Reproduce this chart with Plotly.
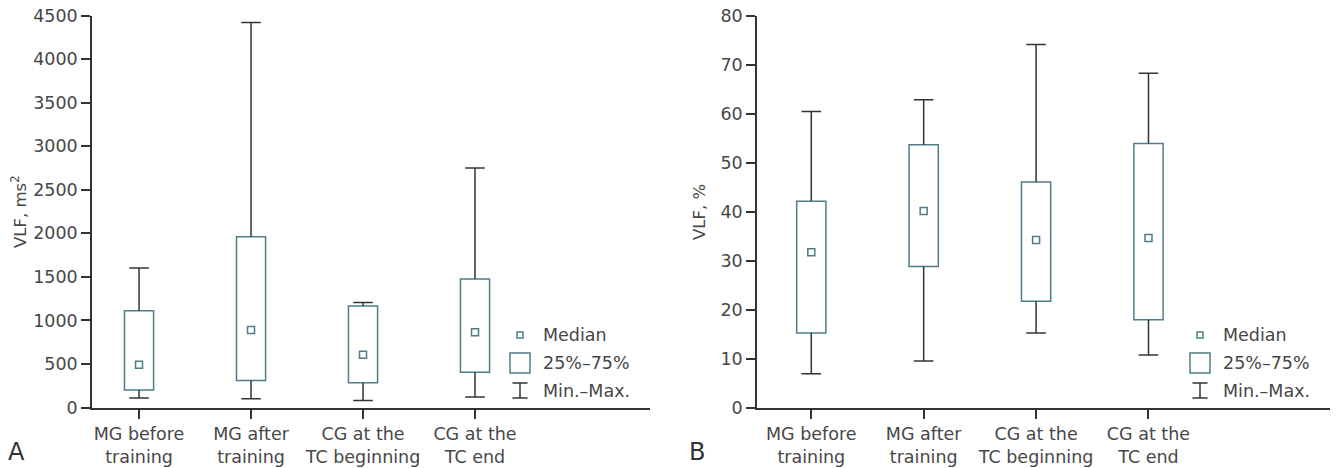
import plotly.graph_objects as go
from plotly.subplots import make_subplots

categories = ["MG before<br>training", "MG after<br>training",
              "CG at the<br>TC beginning", "CG at the<br>TC end"]

# Panel A: VLF, ms^2
a_min = [110, 100, 80, 120]
a_q1 = [200, 310, 285, 405]
a_med = [490, 890, 605, 865]
a_q3 = [1110, 1960, 1165, 1475]
a_max = [1600, 4420, 1205, 2750]

# Panel B: VLF, %
b_min = [6.9, 9.5, 15.2, 10.7]
b_q1 = [15.2, 28.8, 21.7, 17.9]
b_med = [31.7, 40.1, 34.2, 34.6]
b_q3 = [42.1, 53.6, 46.0, 53.9]
b_max = [60.4, 62.8, 74.1, 68.2]

a_ticks = [0, 500, 1000, 1500, 2000, 2500, 3000, 3500, 4000, 4500]
b_ticks = [0, 10, 20, 30, 40, 50, 60, 70, 80]

W, H = 1337, 468
TEAL = "#4f7d86"
DARK = "#333333"
TXT = "#474747"
FONT = "DejaVu Sans"
FS = 17.5

fig = make_subplots(rows=1, cols=2)


def add_panel(col, mn, q1, med, q3, mx):
    fig.add_trace(go.Bar(x=categories, y=[b - a for a, b in zip(q1, q3)], base=q1,
                         width=0.26, marker=dict(color="white", line=dict(color=TEAL, width=1.5)),
                         showlegend=False, hoverinfo="skip"), row=1, col=col)
    for c, lo, a, b, hi in zip(categories, mn, q1, q3, mx):
        for y0, y1 in ((hi, b), (a, lo)):
            fig.add_trace(go.Scatter(x=[c, c], y=[y0, y1], mode="lines",
                                     line=dict(color=DARK, width=1.5),
                                     showlegend=False, hoverinfo="skip"), row=1, col=col)
    fig.add_trace(go.Scatter(x=categories + categories, y=mx + mn, mode="markers",
                             marker=dict(symbol="line-ew", size=14, line=dict(color=DARK, width=1.5)),
                             showlegend=False, hoverinfo="skip"), row=1, col=col)
    fig.add_trace(go.Scatter(x=categories, y=med, mode="markers",
                             marker=dict(symbol="square-open", size=7, color=TEAL, line=dict(color=TEAL, width=1.5)),
                             showlegend=False, hoverinfo="skip"), row=1, col=col)


add_panel(1, a_min, a_q1, a_med, a_q3, a_max)
add_panel(2, b_min, b_q1, b_med, b_q3, b_max)

ydom = [(H - 407.5) / H, (H - 15.5) / H]
axcommon = dict(showline=True, linecolor=DARK, linewidth=1.5, ticks="outside", tickcolor=DARK,
                tickwidth=1.5, showgrid=False, zeroline=False, automargin=False,
                tickfont=dict(family=FONT, size=FS, color=TXT))

fig.update_xaxes(**axcommon, ticklen=10)
fig.update_yaxes(**axcommon, ticklen=9)
fig.update_layout(
    xaxis=dict(domain=[92 / W, 650 / W], range=[-0.42, 4.5625]),
    xaxis2=dict(domain=[757 / W, 1330 / W], range=[-0.483, 4.615]),
    yaxis=dict(domain=ydom, range=[0, 4500], tickvals=a_ticks),
    yaxis2=dict(domain=ydom, range=[0, 80], tickvals=b_ticks),
)


def px(x):
    return x / W


def py(y):
    return 1 - y / H


annotations = [
    dict(x=px(19), y=py(212), text="VLF, ms<sup>2</sup>", textangle=-90,
         font=dict(family=FONT, size=16.5, color=TXT)),
    dict(x=px(700), y=py(212), text="VLF, %", textangle=-90,
         font=dict(family=FONT, size=16.5, color=TXT)),
    dict(x=px(16), y=py(452), text="A", font=dict(family=FONT, size=24, color=DARK)),
    dict(x=px(697), y=py(452), text="B", font=dict(family=FONT, size=24, color=DARK)),
]
shapes = []
for lx in (520, 1200):
    tx = lx + 21
    annotations += [
        dict(x=px(tx), y=py(335), text="Median", xanchor="left"),
        dict(x=px(tx), y=py(363), text="25%–75%", xanchor="left"),
        dict(x=px(tx), y=py(391), text="Min.–Max.", xanchor="left"),
    ]
    shapes += [
        dict(type="rect", x0=px(lx - 3), x1=px(lx + 3), y0=py(338), y1=py(332),
             line=dict(color=TEAL, width=1.5)),
        dict(type="rect", x0=px(lx - 10), x1=px(lx + 10), y0=py(373), y1=py(353),
             line=dict(color=TEAL, width=1.5)),
        dict(type="line", x0=px(lx), x1=px(lx), y0=py(383), y1=py(398), line=dict(color=DARK, width=1.5)),
        dict(type="line", x0=px(lx - 7.5), x1=px(lx + 7.5), y0=py(383), y1=py(383), line=dict(color=DARK, width=1.5)),
        dict(type="line", x0=px(lx - 7.5), x1=px(lx + 7.5), y0=py(398), y1=py(398), line=dict(color=DARK, width=1.5)),
    ]
for s in shapes:
    s["xref"] = "paper"
    s["yref"] = "paper"
for a in annotations:
    a.setdefault("xref", "paper")
    a.setdefault("yref", "paper")
    a.setdefault("showarrow", False)
    a.setdefault("font", dict(family=FONT, size=FS, color=TXT))
    a.setdefault("xanchor", "center")
    a.setdefault("yanchor", "middle")

fig.update_layout(
    width=W, height=H, margin=dict(l=0, r=0, t=0, b=0),
    paper_bgcolor="white", plot_bgcolor="white",
    showlegend=False, annotations=annotations, shapes=shapes,
    font=dict(family=FONT, color=TXT),
)

fig.write_html("out.html", config={"displayModeBar": False},
               post_script="document.body.style.margin='0';document.body.style.padding='0';")
